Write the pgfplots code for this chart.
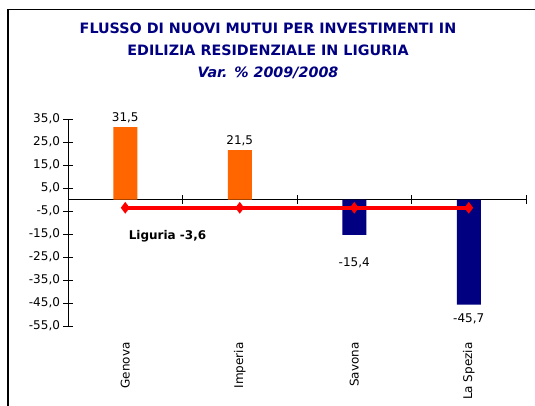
\documentclass[border=0pt]{standalone}
\usepackage{pgfplots}
\pgfplotsset{compat=1.18}
\usepackage{fontspec}
\setmainfont{DejaVu Sans}
\definecolor{titolo}{HTML}{000080}
\definecolor{arancio}{HTML}{FF6600}
\definecolor{blu}{HTML}{000080}
\definecolor{rosso}{HTML}{FF0000}
\begin{document}
\begin{tikzpicture}
\useasboundingbox (0,0) rectangle (535pt,-405pt);
% cornice del grafico (tagliata a destra e in basso)
\draw[line width=1.3pt] (8pt,-430pt) -- (8pt,-9.5pt) -- (560pt,-9.5pt);
\node[font=\bfseries\fontsize{14.3}{22}\selectfont, text=titolo, align=center]
  at (268pt,-51pt)
  {FLUSSO DI NUOVI MUTUI PER INVESTIMENTI IN\\
   EDILIZIA RESIDENZIALE IN LIGURIA\\
   \itshape Var. \% 2009/2008};
\begin{axis}[
  at={(68pt,-326pt)}, anchor=south west,
  width=458pt, height=207pt, scale only axis,
  xmin=-0.5, xmax=3.5, ymin=-55, ymax=35,
  axis x line=middle, axis y line=left,
  axis line style={-, line width=0.8pt},
  xtick={0.5,1.5,2.5,3.5}, xticklabels={},
  ytick={-55,-45,...,35},
  tick align=center, major tick length=9pt,
  tick style={black, line width=0.8pt},
  yticklabel style={/pgf/number format/.cd, fixed, fixed zerofill,
    precision=1, use comma, assume math mode=true},
  font=\fontsize{12}{14}\selectfont,
  clip=false,
]
\addplot[ybar, bar width=24pt, fill=arancio, draw=none]
  coordinates {(0,31.5) (1,21.5)};
\addplot[ybar, bar width=24pt, fill=blu, draw=none]
  coordinates {(2,-15.4) (3,-45.7)};
\addplot[rosso, line width=3.5pt, mark=diamond*, mark size=3pt]
  coordinates {(0,-3.6) (1,-3.6) (2,-3.6) (3,-3.6)};
% etichette dei valori
\node[above] at (axis cs:0,31.8) {31,5};
\node[above] at (axis cs:1,21.8) {21,5};
\node at (axis cs:2,-27.5) {-15,4};
\node at (axis cs:3,-51.7) {-45,7};
\node[font=\bfseries\fontsize{12}{14}\selectfont, anchor=west]
  at (axis cs:0,-16) {Liguria -3,6};
% categorie
\node[rotate=90, anchor=east] at ([yshift=-13pt]axis cs:0,-55) {Genova};
\node[rotate=90, anchor=east] at ([yshift=-13pt]axis cs:1,-55) {Imperia};
\node[rotate=90, anchor=east] at ([yshift=-13pt]axis cs:2,-55) {Savona};
\node[rotate=90, anchor=east] at ([yshift=-13pt]axis cs:3,-55) {La Spezia};
\end{axis}
\end{tikzpicture}
\end{document}
